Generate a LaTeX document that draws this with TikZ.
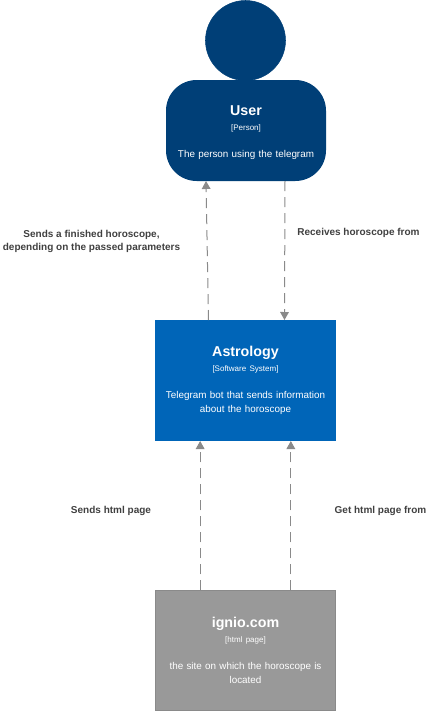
\documentclass[tikz,border=0pt]{standalone}
\usepackage{fontspec}
\setmainfont{Liberation Sans}
\usetikzlibrary{arrows.meta}
\definecolor{personblue}{HTML}{003F77}
\definecolor{systemblue}{HTML}{0065B8}
\definecolor{sitegray}{HTML}{999999}
\definecolor{linegray}{HTML}{8A8A8A}
\definecolor{labelgray}{HTML}{404040}
\newcommand{\boxtext}[3]{{\fontsize{10.7pt}{12pt}\bfseries #1}\\[0.2pt]{\fontsize{6pt}{7pt}\selectfont [#2]}\\[9.2pt]{\fontsize{7.4pt}{11pt}\selectfont #3}}
\tikzset{
  x=0.75pt, y=-0.75pt,
  boxnode/.style={inner sep=0pt, outer sep=0pt, minimum width=135.75pt, minimum height=90.75pt, align=center, text=white, text width=130pt, font=\fontsize{7.4pt}{11pt}\selectfont},
  rel/.style={draw=linegray, line width=0.75pt, dash pattern=on 7.5pt off 4.5pt, -{Triangle[length=6pt,width=6.5pt]}},
  rellabel/.style={inner sep=0pt, text=labelgray, font=\fontsize{7.5pt}{9.3pt}\bfseries\selectfont, align=center},
}
\begin{document}
\begin{tikzpicture}
\useasboundingbox (0,0) rectangle (426,711);
\node[circle, fill=personblue, draw=personblue, line width=0.4pt, minimum size=60pt, inner sep=0pt, outer sep=0pt] (head) at (245.5,40.5) {};
\node[boxnode, rounded corners=23pt, fill=personblue, minimum width=120pt, minimum height=75.75pt, text width=118pt] (user) at (246,130.5) {\boxtext{\rule{0pt}{10.5pt}User}{Person}{The person using the telegram}};
\node[boxnode, fill=systemblue] (astro) at (245.5,380.5) {\boxtext{Astrology}{Software System}{Telegram bot that sends information\\about the horoscope}};
\node[boxnode, fill=sitegray, draw=linegray, line width=0.75pt, minimum width=135pt, minimum height=90pt] (site) at (245.5,650.3) {\boxtext{ignio.com}{html page}{the site on which the horoscope is\\located}};
\draw[rel] ([xshift=-27.75pt]astro.north) -- ([xshift=-30pt]user.south);
\draw[rel] ([xshift=29.25pt]user.south) -- ([xshift=29.25pt]astro.north);
\draw[rel] ([xshift=-34pt]site.north) -- ([xshift=-34pt]astro.south);
\draw[rel] ([xshift=34pt]site.north) -- ([xshift=34pt]astro.south);
\node[rellabel] (l1) at (91.5,241.3) {Sends a finished horoscope,\\depending on the passed parameters};
\node[rellabel] (l2) at (358.5,233) {Receives horoscope from};
\node[rellabel] (l3) at (111,511) {Sends html page};
\node[rellabel] (l4) at (380.5,511) {Get html page from};
\end{tikzpicture}
\end{document}
